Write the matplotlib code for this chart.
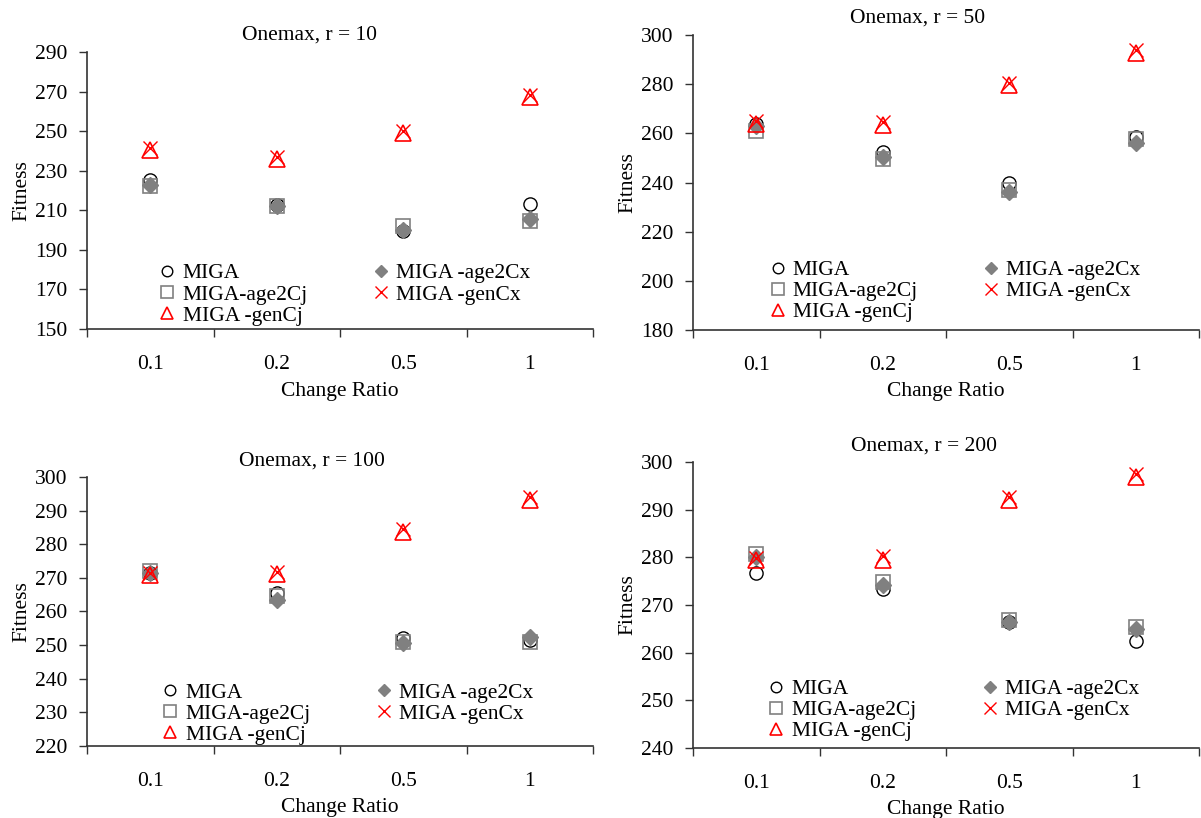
import matplotlib
matplotlib.use("Agg")
import matplotlib.pyplot as plt
from matplotlib.ticker import FixedLocator, NullFormatter, FixedFormatter

plt.rcParams['font.family'] = ['Liberation Serif', 'DejaVu Serif']
FS = 15.5
plt.rcParams['font.size'] = FS

ratios = ["0.1", "0.2", "0.5", "1"]
series = ["MIGA", "MIGA -age2Cx", "MIGA-age2Cj", "MIGA -genCx", "MIGA -genCj"]

# fitness per change ratio, one list per variant
r10_miga = [225.5, 212.5, 199.5, 213.0]
r10_age2cx = [223.0, 212.0, 200.0, 205.5]
r10_age2cj = [222.5, 212.0, 202.0, 204.5]
r10_gencx = [241.5, 237.0, 250.0, 268.5]
r10_gencj = [240.5, 236.0, 249.0, 267.5]

r50_miga = [264.0, 252.5, 240.0, 258.5]
r50_age2cx = [263.0, 250.5, 236.0, 256.0]
r50_age2cj = [261.0, 249.5, 237.0, 257.5]
r50_gencx = [265.0, 264.5, 280.5, 294.0]
r50_gencj = [264.0, 263.5, 279.5, 292.5]

r100_miga = [271.5, 265.5, 252.0, 251.5]
r100_age2cx = [271.5, 263.5, 250.5, 252.5]
r100_age2cj = [272.0, 264.5, 251.0, 251.0]
r100_gencx = [271.5, 271.8, 284.5, 294.0]
r100_gencj = [271.0, 271.2, 283.5, 293.2]

r200_miga = [276.8, 273.3, 266.5, 262.5]
r200_age2cx = [280.0, 274.3, 266.5, 265.0]
r200_age2cj = [280.6, 274.8, 266.8, 265.3]
r200_gencx = [279.8, 280.2, 292.6, 297.5]
r200_gencj = [279.5, 279.5, 292.1, 296.9]

titles = ["Onemax, r = 10", "Onemax, r = 50", "Onemax, r = 100", "Onemax, r = 200"]
yranges = [(150, 290, 20), (180, 300, 20), (220, 300, 10), (240, 300, 10)]

panels = [
    [r10_miga, r10_age2cx, r10_age2cj, r10_gencx, r10_gencj],
    [r50_miga, r50_age2cx, r50_age2cj, r50_gencx, r50_gencj],
    [r100_miga, r100_age2cx, r100_age2cj, r100_gencx, r100_gencj],
    [r200_miga, r200_age2cx, r200_age2cj, r200_gencx, r200_gencj],
]

W, H = 1201, 818
# axes boxes in pixels: left, top, right, bottom
boxes = [(87, 52, 593, 329), (693, 35, 1199, 330),
         (87, 477, 593, 746), (693, 462, 1199, 748)]
title_xy = [(0.44, 1.062), (0.443, 1.058), (0.445, 1.06), (0.456, 1.056)]
xlabel_y = [-0.224, -0.207, -0.230, -0.216]
legend_xy = [(0.142, 0.237), (0.150, 0.237), (0.148, 0.236), (0.148, 0.241)]

styles = [
    dict(marker='o', ms=9.5, mfc='none', mec='black', mew=1.0),
    dict(marker='D', ms=8, mfc='#808080', mec='#808080', mew=1.0),
    dict(marker='s', ms=10, mfc='none', mec='#808080', mew=1.2),
    dict(marker='x', ms=10, mec='red', mew=1.0),
    dict(marker='^', ms=11, mfc='none', mec='red', mew=1.2),
]

fig = plt.figure(figsize=(W / 100, H / 100), dpi=100)
pos = list(range(len(ratios)))

for i, data in enumerate(panels):
    l, t, r, b = boxes[i]
    ax = fig.add_axes([l / W, 1 - b / H, (r - l) / W, (b - t) / H])
    handles = []
    for vals, name, st in zip(data, series, styles):
        h, = ax.plot(pos, vals, linestyle='none', label=name, **st)
        handles.append(h)

    lo, hi, step = yranges[i]
    ax.set_ylim(lo, hi)
    ax.set_yticks(list(range(lo, hi + 1, step)))
    ax.set_xlim(-0.5, len(ratios) - 0.5)
    ax.xaxis.set_major_locator(FixedLocator([p - 0.5 for p in range(len(ratios) + 1)]))
    ax.xaxis.set_major_formatter(NullFormatter())
    ax.xaxis.set_minor_locator(FixedLocator(pos))
    ax.xaxis.set_minor_formatter(FixedFormatter(ratios))
    ax.tick_params(axis='x', which='major', length=6, width=1, color='#333333')
    ax.tick_params(axis='x', which='minor', length=0, pad=19, labelsize=FS)
    ax.tick_params(axis='y', length=6, width=1, pad=8, color='#333333', labelsize=FS)

    for side in ['top', 'right']:
        ax.spines[side].set_visible(False)
    for side in ['left', 'bottom']:
        ax.spines[side].set_color('#333333')
        ax.spines[side].set_linewidth(1.2)

    ax.set_ylabel("Fitness", fontsize=FS, va='center')
    ax.yaxis.set_label_coords(-0.129, 0.5)
    ax.set_xlabel("Change Ratio", fontsize=FS, va='center')
    ax.xaxis.set_label_coords(0.5, xlabel_y[i])

    tx, ty = title_xy[i]
    ax.text(tx, ty, titles[i], transform=ax.transAxes, ha='center', va='center', fontsize=FS)

    order = [0, 2, 4, 1, 3]
    ax.legend([handles[k] for k in order], [series[k] for k in order],
              ncol=2, loc='upper left', bbox_to_anchor=legend_xy[i],
              frameon=False, borderpad=0, borderaxespad=0, markerscale=0.8,
              handlelength=0.8, handletextpad=0.3, labelspacing=0.05,
              columnspacing=3.0, fontsize=FS)

fig.savefig("out.png", dpi=100)
